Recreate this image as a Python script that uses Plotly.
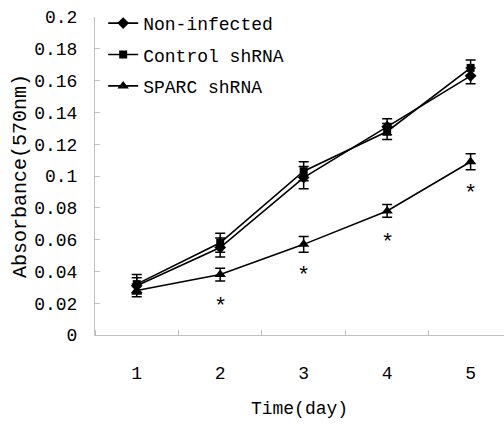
import plotly.graph_objects as go

days = [1, 2, 3, 4, 5]
non_infected = [0.031, 0.055, 0.099, 0.131, 0.163]
non_infected_err = [0.005, 0.006, 0.007, 0.005, 0.005]
control = [0.032, 0.058, 0.103, 0.128, 0.168]
control_err = [0.006, 0.006, 0.006, 0.005, 0.005]
sparc = [0.028, 0.038, 0.057, 0.078, 0.109]
sparc_err = [0.004, 0.004, 0.005, 0.004, 0.005]
sig_days = [2, 3, 4, 5]
y_ticks = [0, 0.02, 0.04, 0.06, 0.08, 0.1, 0.12, 0.14, 0.16, 0.18, 0.2]
y_tick_labels = ["0", "0.02", "0.04", "0.06", "0.08", "0.1", "0.12", "0.14", "0.16", "0.18", "0.2"]

FONT = "Liberation Mono"

fig = go.Figure()
series = [
    ("Non-infected", non_infected, non_infected_err, "diamond", 9),
    ("Control shRNA", control, control_err, "square", 8),
    ("SPARC shRNA", sparc, sparc_err, "triangle-up", 10),
]
for i, (name, vals, errs, sym, sz) in enumerate(series):
    fig.add_trace(go.Scatter(
        x=days, y=vals, name=name, mode="lines+markers",
        legendgroup=f"g{i}",
        line=dict(color="black", width=1.6),
        marker=dict(symbol=sym, size=sz, color="black"),
        error_y=dict(type="data", array=errs, visible=True, color="black",
                     thickness=1.5, width=5),
    ))

for d in sig_days:
    v = sparc[days.index(d)]
    fig.add_annotation(x=d, y=v - 0.018, text="*", showarrow=False,
                       font=dict(family=FONT, size=22, color="black"),
                       xref="x", yref="y", yanchor="middle", yshift=-4)

fig.update_layout(
    width=504, height=426,
    margin=dict(l=95, r=0, t=17, b=91),
    paper_bgcolor="white", plot_bgcolor="white",
    font=dict(family=FONT, size=18, color="black"),
    showlegend=True,
    legend=dict(x=0.02, y=1.038, xanchor="left", yanchor="top",
                bgcolor="rgba(0,0,0,0)", font=dict(family=FONT, size=18),
                traceorder="grouped", tracegroupgap=5, itemwidth=30),
    xaxis=dict(
        range=[0.5, 5.4], tickmode="array", tickvals=days,
        ticktext=[str(d) for d in days], ticks="", showgrid=False,
        showline=True, linecolor="#c0c0c0", linewidth=1, zeroline=False,
        ticklabelstandoff=21,
        title=dict(text="Time(day)", font=dict(family=FONT, size=18), standoff=18),
        minor=dict(tickmode="array", tickvals=[0.5, 1.5, 2.5, 3.5, 4.5],
                   ticks="inside", ticklen=5, tickcolor="#c0c0c0", showgrid=False),
    ),
    yaxis=dict(
        range=[0, 0.2], tickmode="array", tickvals=y_ticks, ticktext=y_tick_labels,
        ticks="inside", ticklen=5, tickcolor="#c0c0c0", showgrid=False,
        showline=True, linecolor="#c0c0c0", linewidth=1, zeroline=False,
        ticklabelstandoff=13,
        title=dict(text="Absorbance(570nm)", font=dict(family=FONT, size=20), standoff=2),
    ),
)

fig.write_html("out.html")
